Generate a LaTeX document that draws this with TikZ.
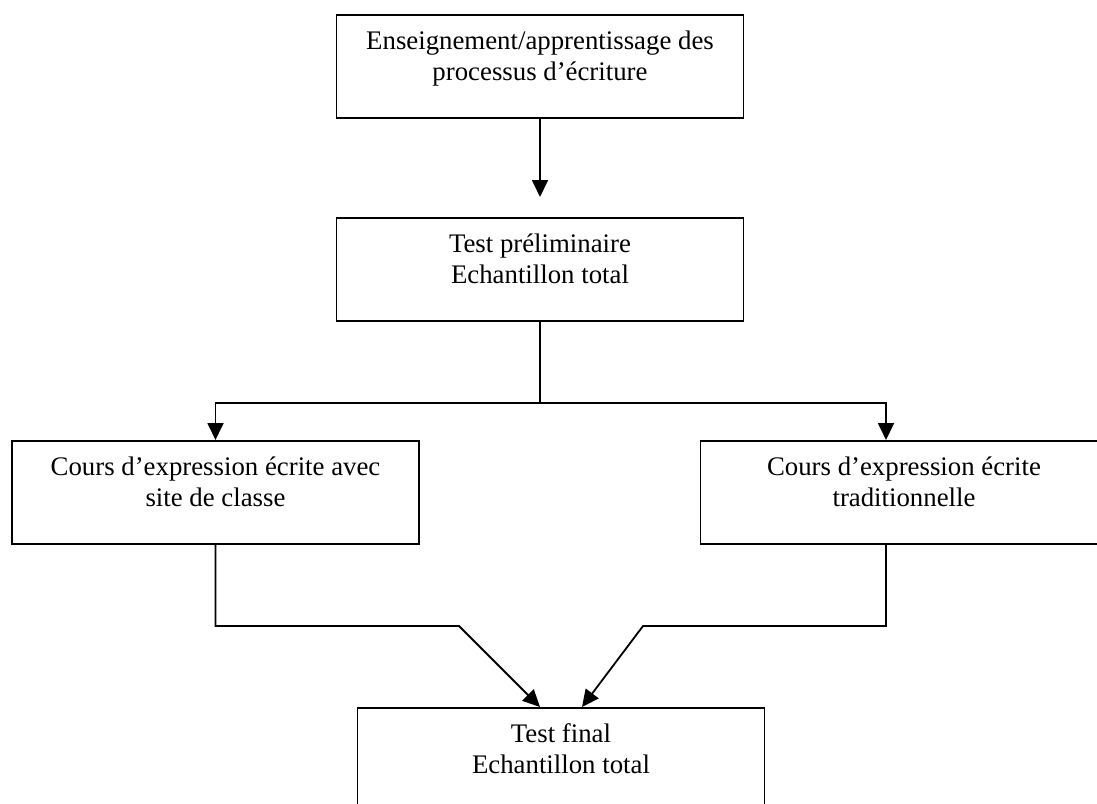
\documentclass[tikz,border=0pt]{standalone}
\usepackage{fontspec}
\setmainfont{Liberation Serif}
\usetikzlibrary{arrows.meta}

\tikzset{
  bloc/.style={draw, line width=1.8pt, inner sep=0pt, anchor=north,
    execute at begin node={\begin{minipage}[t][103pt][t]{407pt}\centering
      \fontsize{26.8}{31}\selectfont\rule{0pt}{35pt}},
    execute at end node={\end{minipage}}},
  fleche/.style={line width=1.8pt, -{Triangle[length=17pt,width=16pt]}}
}

\begin{document}
\begin{tikzpicture}[x=1pt,y=-1pt] % one unit = one pixel of the page
        % Page frame, the boxes on the edges are cut off
        \useasboundingbox (0,0) rectangle (1097,803);
        \clip (0,0) rectangle (1097,803);

        % Boxes
        \node[bloc] (enseign) at (540,14) {Enseignement/apprentissage des\\processus d’écriture};
        \node[bloc] (prelim) at (540,217) {Test préliminaire\\Echantillon total};
        \node[bloc] (gauche) at (215.5,440) {Cours d’expression écrite avec\\site de classe};
        \node[bloc] (droite) at (904,440) {Cours d’expression écrite\\traditionnelle};
        \node[bloc] (final) at (561,707) {Test final\\Echantillon total};

        % Bends of the connectors
        \coordinate (jonction) at (540,403);
        \coordinate (coudeG) at (459,626);
        \coordinate (coudeD) at (643,626);

        % Connectors
        \draw[fleche] (enseign.south) -- ([yshift=20pt]prelim.north);
        \draw[line width=1.8pt] (prelim.south) -- (jonction);
        \draw[fleche] (jonction) -| (gauche.north);
        \draw[fleche] (jonction) -| ([xshift=-18pt]droite.north);
        \draw[fleche] (gauche.south) |- (coudeG) -- ([xshift=-21pt]final.north);
        \draw[fleche] ([xshift=-18pt]droite.south) |- (coudeD) -- ([xshift=21pt]final.north);

    \end{tikzpicture}
\end{document}
